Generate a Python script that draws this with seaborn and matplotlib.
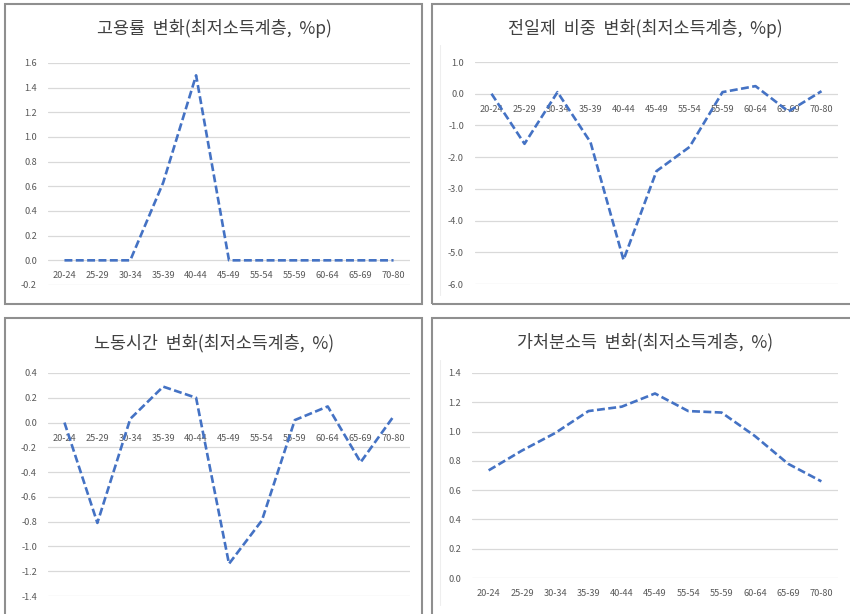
import matplotlib
matplotlib.use("Agg")
import matplotlib.pyplot as plt
from matplotlib.patches import Rectangle
from matplotlib.lines import Line2D
import seaborn as sns
import pandas as pd

categories = ["20-24", "25-29", "30-34", "35-39", "40-44", "45-49",
              "55-54", "55-59", "60-64", "65-69", "70-80"]
employment = [0.0, 0.0, 0.0, 0.63, 1.50, 0.0, 0.0, 0.0, 0.0, 0.0, 0.0]
fulltime = [0.0, -1.58, 0.05, -1.53, -5.24, -2.44, -1.68, 0.05, 0.24, -0.56, 0.08]
hours = [0.0, -0.81, 0.03, 0.29, 0.20, -1.14, -0.79, 0.02, 0.13, -0.32, 0.05]
income = [0.735, 0.87, 0.99, 1.14, 1.17, 1.26, 1.14, 1.13, 0.97, 0.78, 0.66]

titles = ["고용률  변화(최저소득계층,  %p)", "전일제  비중  변화(최저소득계층,  %p)",
          "노동시간  변화(최저소득계층,  %)", "가처분소득  변화(최저소득계층,  %)"]
yticks_list = [
    [-0.2, 0.0, 0.2, 0.4, 0.6, 0.8, 1.0, 1.2, 1.4, 1.6],
    [-6.0, -5.0, -4.0, -3.0, -2.0, -1.0, 0.0, 1.0],
    [-1.4, -1.2, -1.0, -0.8, -0.6, -0.4, -0.2, 0.0, 0.2, 0.4],
    [0.0, 0.2, 0.4, 0.6, 0.8, 1.0, 1.2, 1.4],
]
series = [employment, fulltime, hours, income]

sns.set_theme(style="white")
plt.rcParams['font.family'] = ['Noto Sans CJK KR', 'DejaVu Sans']

W, H = 850, 614
fig = plt.figure(figsize=(W / 100, H / 100), dpi=100)
fig.patch.set_facecolor("white")


def fr(l, t, r, b):
    return [l / W, 1 - b / H, (r - l) / W, (b - t) / H]


# panel frames (pixel coords)
boxes = [(5, 4, 422, 304), (432, 4, 853, 304), (5, 318, 422, 618), (432, 318, 853, 618)]
for (l, t, r, b) in boxes:
    fig.patches.append(Rectangle((l / W, 1 - b / H), (r - l) / W, (b - t) / H,
                                 transform=fig.transFigure, fill=False,
                                 edgecolor="#8f8f8f", linewidth=1.5))
# faint inner plot-area borders on right panels
fig.lines.append(Line2D([440 / W, 440 / W], [1 - 295 / H, 1 - 45 / H],
                        transform=fig.transFigure, color="#eeeeee", lw=0.8))
fig.lines.append(Line2D([440 / W, 440 / W], [1 - 605 / H, 1 - 360 / H],
                        transform=fig.transFigure, color="#eeeeee", lw=0.8))

axes_pos = [fr(48, 63, 410, 285), fr(475, 62, 838, 284),
            fr(48, 373, 410, 596), fr(472, 373, 838, 578)]
title_pos = [(214, 29), (645, 29), (214, 343), (645, 342)]

for i in range(4):
    ax = fig.add_axes(axes_pos[i])
    df = pd.DataFrame({"age": categories, "value": series[i]})
    sns.lineplot(data=df, x="age", y="value", ax=ax, color="#4472C4",
                 linewidth=1.9, linestyle=(0, (3.0, 1.3)), sort=False, zorder=5)
    yt = yticks_list[i]
    ax.set_ylim(yt[0], yt[-1])
    ax.set_xlim(-0.5, len(categories) - 0.5)
    ax.set_yticks(yt)
    ax.set_yticklabels([f"{v:.1f}" for v in yt])
    ax.set_xticks(range(len(categories)))
    ax.set_xticklabels(categories)
    ax.set_xlabel("")
    ax.set_ylabel("")
    ax.spines["bottom"].set_position(("data", 0))
    for s in ["top", "right", "left", "bottom"]:
        ax.spines[s].set_visible(False)
    ax.grid(axis="y", color="#d9d9d9", linewidth=0.9)
    ax.grid(axis="x", visible=False)
    ax.set_axisbelow(True)
    ax.tick_params(axis="y", length=0, pad=8, labelsize=6.6, labelcolor="#595959")
    ax.tick_params(axis="x", length=0, pad=8, labelsize=6.6, labelcolor="#595959")
    ax.patch.set_alpha(0)
    tx, ty = title_pos[i]
    fig.text(tx / W, 1 - ty / H, titles[i], ha="center", va="center",
             fontsize=12.5, color="#404040")

fig.savefig("out.png", dpi=100, facecolor="white")
